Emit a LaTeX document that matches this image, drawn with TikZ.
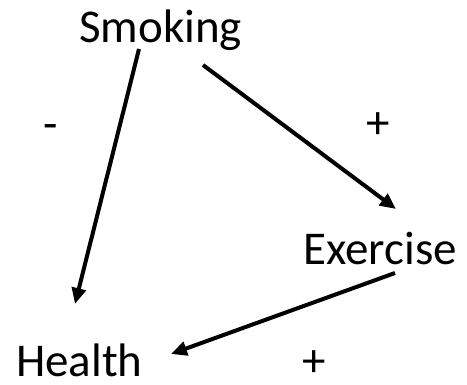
\documentclass[tikz,border=0pt]{standalone}
\usepackage{fontspec}
\setmainfont{Carlito}
\usetikzlibrary{arrows.meta}
\begin{document}
\begin{tikzpicture}[x=1pt,y=-1pt,
  lbl/.style={inner sep=0pt,anchor=base west,font=\fontsize{47}{50}\selectfont},
  sgn/.style={inner sep=0pt,text depth=0pt,font=\fontsize{47}{50}\selectfont},
  link/.style={line width=4pt,-{Triangle[length=16pt,width=14pt]}}]
\useasboundingbox (0,0) rectangle (467,385);
% variables
\node[lbl] (smoking) at (79,43) {Smoking};
\node[lbl] (exercise) at (303,265) {Exercise};
\node[lbl,text depth=0pt] (health) at (16,377) {Health};
% edge end points
\coordinate (sh0) at (139,49);
\coordinate (sh1) at (75,304);
\coordinate (se0) at (203,65);
\coordinate (se1) at (396,209);
\coordinate (eh0) at (395,273);
\coordinate (eh1) at (171,354);
% causal links
\draw[link] (sh0) -- (sh1);
\draw[link] (se0) -- (se1);
\draw[link] (eh0) -- (eh1);
% signs
\node[sgn] (mneg) at (51,132) {-};
\node[sgn] (pse) at (378,126) {+};
\node[sgn] (peh) at (314,364) {+};
\end{tikzpicture}
\end{document}
